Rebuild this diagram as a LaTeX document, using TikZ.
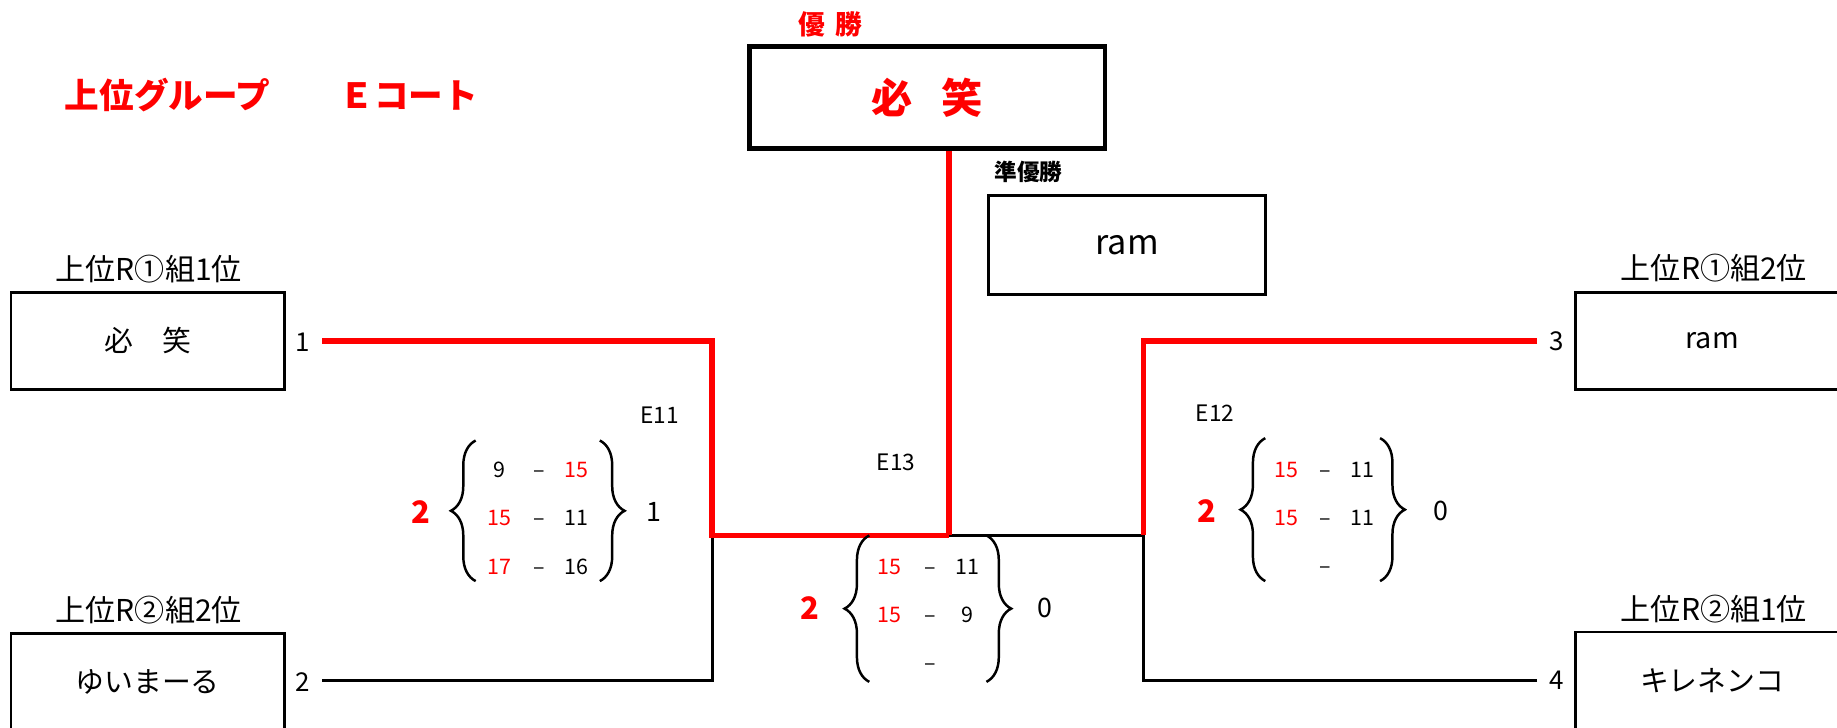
\documentclass[tikz,border=0pt]{standalone}
\usepackage{fontspec}
\setmainfont{Noto Sans CJK JP}
\usetikzlibrary{decorations.pathreplacing}

\begin{document}
\begin{tikzpicture}[x=0.01cm,y=-0.01cm,
  team/.style={draw,line width=0.7pt,minimum width=2.33cm,minimum height=0.83cm,font=\fontsize{7}{8}\selectfont},
  rank/.style={font=\fontsize{7.3}{8}\selectfont},
  seed/.style={font=\fontsize{6.3}{7}\selectfont},
  match/.style={font=\fontsize{5.5}{6}\selectfont},
  pt/.style={font=\fontsize{5.2}{6}\selectfont,text height=0.72em,text depth=0pt},
  ptw/.style={pt,text=red},
  sets/.style={font=\bfseries\fontsize{7.5}{8}\selectfont,text=red},
  setl/.style={font=\fontsize{6.5}{7}\selectfont},
  brc/.style={decorate,decoration={brace,amplitude=6pt},line width=0.6pt},
  winline/.style={red,line width=1.4pt},
  loseline/.style={line width=0.6pt}]

\useasboundingbox (0,0) rectangle (1568,621);

\node[anchor=west,text=red,font=\bfseries\fontsize{8.4}{9}\selectfont] (title) at (43,81) {上位グループ　　Ｅコート};

% final
\node[text=red,font=\bfseries\fontsize{6.5}{7}\selectfont] (yusho) at (709,21) {優\hspace{0.4em}勝};
\node[draw,line width=1.15pt,minimum width=3.03cm,minimum height=0.87cm,text=red,font=\bfseries\fontsize{10}{11}\selectfont] (champ) at (791.5,83.5) {必\hspace{0.7em}笑};
\node[font=\bfseries\fontsize{5.5}{6}\selectfont] (junyu) at (878,147) {準優勝};
\node[team,minimum width=2.36cm,minimum height=0.84cm,font=\fontsize{8.3}{9}\selectfont] (second) at (962,209) {ram};

% left side
\node[rank] (r1) at (127,230) {上位R①組1位};
\node[team] (t1) at (126,291) {必　笑};
\node[seed] (n1) at (258,292) {1};
\node[rank] (r2) at (127,521) {上位R②組2位};
\node[team] (t2) at (126,582) {ゆいまーる};
\node[seed] (n2) at (258,582) {2};

% right side
\node[rank] (r3) at (1463,229) {上位R①組2位};
\node[team] (t3) at (1461.5,291) {ram};
\node[seed] (n3) at (1329,291) {3};
\node[rank] (r4) at (1463,520) {上位R②組1位};
\node[team] (t4) at (1461.5,581) {キレネンコ};
\node[seed] (n4) at (1329,581) {4};

\coordinate (p1) at (275,291);
\coordinate (p2) at (275,581);
\coordinate (p3) at (1312,291);
\coordinate (p4) at (1312,581);
\coordinate (e11) at (608,457);
\coordinate (e13) at (810,457);
\coordinate (e12) at (976,457);

\draw[loseline] (p2) -| (e11);
\draw[loseline] (e13) -- (e12);
\draw[loseline] (p4) -| (e12);
\draw[winline] (p1) -| (e11) -- (e13);
\draw[winline] (p3) -| (e12);
\draw[winline] (champ.south -| e13) -- (e13);

% E11
\node[match] (m11) at (563,354) {E11};
\node[sets] (w11) at (359,437) {2};
\node[setl] (l11) at (558,437) {1};
\draw[brc] (406,496) -- (406,376);
\draw[brc] (512,376) -- (512,496);
\node[pt] (a11) at (426,395) {9};
\node[pt] (b11) at (460,395) {–};
\node[ptw] (c11) at (492,395) {15};
\node[ptw] (a12) at (426,436) {15};
\node[pt] (b12) at (460,436) {–};
\node[pt] (c12) at (492,436) {11};
\node[ptw] (a13) at (426,478) {17};
\node[pt] (b13) at (460,478) {–};
\node[pt] (c13) at (492,478) {16};

% E13
\node[match] (m13) at (765,395) {E13};
\node[sets] (w13) at (691,519) {2};
\node[setl] (l13) at (892,519) {0};
\draw[brc] (742,582) -- (742,457);
\draw[brc] (842,457) -- (842,582);
\node[ptw] (a31) at (759,478) {15};
\node[pt] (b31) at (794,478) {–};
\node[pt] (c31) at (826,478) {11};
\node[ptw] (a32) at (759,519) {15};
\node[pt] (b32) at (794,519) {–};
\node[pt] (c32) at (826,519) {9};
\node[pt] (b33) at (794,560) {–};

% E12
\node[match] (m12) at (1037,353) {E12};
\node[sets] (w12) at (1030,436) {2};
\node[setl] (l12) at (1230,436) {0};
\draw[brc] (1080,496) -- (1080,374);
\draw[brc] (1178,374) -- (1178,496);
\node[ptw] (a21) at (1098,395) {15};
\node[pt] (b21) at (1131,395) {–};
\node[pt] (c21) at (1163,395) {11};
\node[ptw] (a22) at (1098,436) {15};
\node[pt] (b22) at (1131,436) {–};
\node[pt] (c22) at (1163,436) {11};
\node[pt] (b23) at (1131,477) {–};
\end{tikzpicture}
\end{document}
